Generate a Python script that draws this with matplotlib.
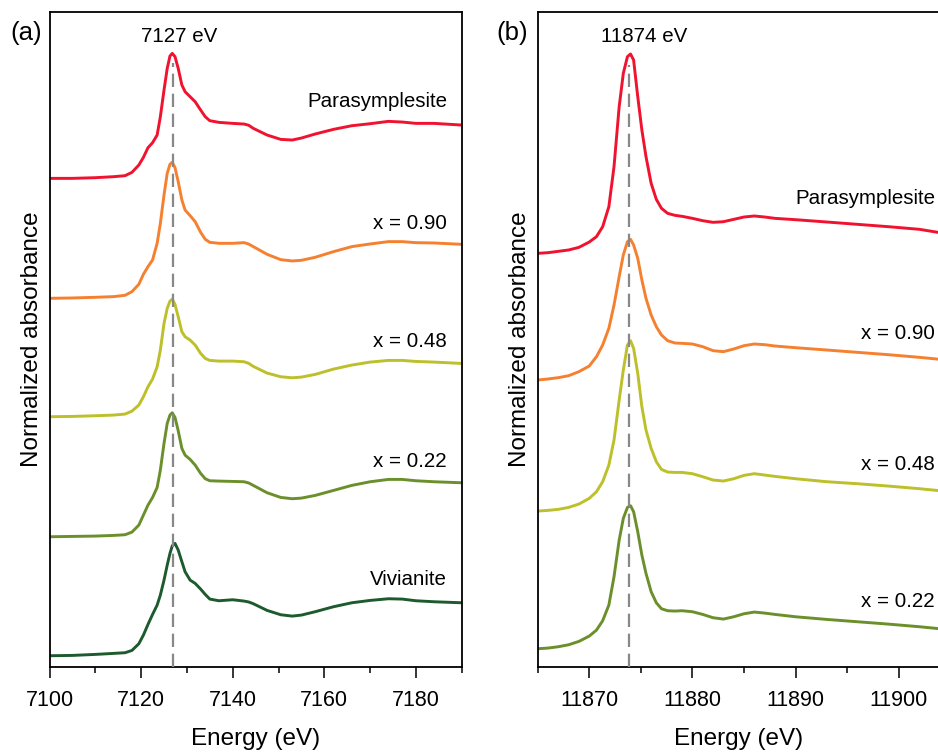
import matplotlib
matplotlib.use("Agg")
import matplotlib.pyplot as plt
from matplotlib.ticker import MultipleLocator

plt.rcParams["font.family"] = ["Liberation Sans", "DejaVu Sans"]

# Fe K-edge (panel a), energies in eV
FE_ENERGY = [7100, 7105, 7110, 7114, 7116.5, 7118, 7119.5, 7120.5, 7121.5, 7122.5,
             7123.5, 7124.2, 7125, 7125.7, 7126.3, 7126.8, 7127.4, 7128.1, 7128.9,
             7129.6, 7130.7, 7131.8, 7133, 7134, 7135, 7137, 7140, 7142.5, 7143.5,
             7144.5, 7147.5, 7150.5, 7153, 7155, 7158, 7162, 7166, 7170, 7174, 7177,
             7180, 7184, 7190]
FE_PARASYMPLESITE = [0, 0, 0.012, 0.030, 0.048, 0.107, 0.238, 0.375, 0.548, 0.637,
                     0.774, 1.101, 1.577, 1.964, 2.185, 2.232, 2.173, 1.964, 1.667,
                     1.548, 1.458, 1.369, 1.220, 1.101, 1.030, 1.000, 0.982, 0.970,
                     0.948, 0.893, 0.774, 0.696, 0.685, 0.720, 0.792, 0.875, 0.940,
                     0.976, 1.018, 1.006, 0.982, 0.982, 0.952]
FE_X090 = [0, 0.006, 0.018, 0.030, 0.054, 0.119, 0.250, 0.429, 0.565, 0.685,
           0.982, 1.339, 1.845, 2.232, 2.393, 2.429, 2.333, 2.083, 1.756,
           1.577, 1.476, 1.369, 1.179, 1.054, 1.000, 0.982, 0.982, 0.994,
           0.968, 0.923, 0.786, 0.690, 0.667, 0.679, 0.732, 0.833, 0.923,
           0.970, 1.012, 1.012, 0.994, 0.988, 0.964]
FE_X048 = [0, 0.006, 0.018, 0.030, 0.048, 0.101, 0.208, 0.357, 0.536, 0.673,
           0.893, 1.190, 1.667, 1.935, 2.065, 2.101, 2.006, 1.786, 1.518,
           1.429, 1.369, 1.280, 1.131, 1.042, 1.006, 0.994, 0.994, 0.982,
           0.953, 0.899, 0.780, 0.714, 0.696, 0.708, 0.756, 0.851, 0.923,
           0.976, 1.006, 1.006, 0.988, 0.976, 0.952]
FE_X022 = [0, 0.006, 0.012, 0.024, 0.036, 0.083, 0.208, 0.387, 0.565, 0.702,
           0.881, 1.190, 1.667, 2.024, 2.173, 2.214, 2.131, 1.893, 1.577,
           1.458, 1.381, 1.280, 1.131, 1.036, 1.000, 0.994, 0.988, 0.982,
           0.960, 0.917, 0.786, 0.702, 0.679, 0.690, 0.738, 0.827, 0.917,
           0.982, 1.024, 1.024, 1.000, 0.982, 0.964]
FE_VIVIANITE = [0, 0.006, 0.024, 0.042, 0.054, 0.095, 0.214, 0.369, 0.560, 0.738,
                0.905, 1.083, 1.351, 1.619, 1.827, 1.964, 2.006, 1.887, 1.679,
                1.500, 1.351, 1.292, 1.190, 1.095, 1.012, 0.982, 1.000, 0.976,
                0.960, 0.929, 0.810, 0.732, 0.708, 0.726, 0.786, 0.875, 0.946,
                0.988, 1.018, 1.012, 0.982, 0.964, 0.946]
FE_SERIES = [FE_PARASYMPLESITE, FE_X090, FE_X048, FE_X022, FE_VIVIANITE]
FE_OFFSETS = [8.721, 6.579, 4.464, 2.321, 0.196]
FE_LABELS = ["Parasymplesite", "x = 0.90", "x = 0.48", "x = 0.22", "Vivianite"]
FE_LABEL_Y = [10.089, 7.918, 5.804, 3.673, 1.561]
FE_PEAK = 7127

# As K-edge (panel b)
AS_ENERGY = [11865, 11866, 11867, 11868, 11869, 11870, 11870.7, 11871.3, 11871.9,
             11872.4, 11872.9, 11873.3, 11873.7, 11874, 11874.3, 11874.7, 11875.1,
             11875.5, 11876, 11876.5, 11877, 11877.6, 11878.3, 11879, 11880, 11881,
             11882, 11883, 11884, 11885, 11886, 11887, 11888, 11890, 11893, 11896,
             11899, 11902, 11904]
AS_PARASYMPLESITE = [0, 0.012, 0.036, 0.060, 0.107, 0.202, 0.298, 0.476, 0.833,
                     1.548, 2.619, 3.214, 3.512, 3.560, 3.452, 2.798, 2.202,
                     1.726, 1.250, 0.964, 0.804, 0.714, 0.679, 0.661, 0.625, 0.583,
                     0.554, 0.565, 0.607, 0.649, 0.667, 0.649, 0.625, 0.601, 0.560,
                     0.518, 0.476, 0.429, 0.369]
AS_X090 = [0, 0.018, 0.042, 0.077, 0.149, 0.250, 0.417, 0.625, 0.923,
           1.339, 1.845, 2.232, 2.470, 2.512, 2.411, 2.173, 1.786,
           1.458, 1.161, 0.952, 0.804, 0.702, 0.661, 0.655, 0.643, 0.595,
           0.524, 0.506, 0.554, 0.613, 0.643, 0.631, 0.607, 0.577, 0.536,
           0.494, 0.452, 0.405, 0.369]
AS_X048 = [0, 0.012, 0.030, 0.065, 0.125, 0.226, 0.345, 0.524, 0.821,
           1.268, 1.982, 2.518, 2.964, 3.042, 2.905, 2.458, 1.863,
           1.446, 1.119, 0.881, 0.744, 0.696, 0.690, 0.690, 0.667, 0.613,
           0.554, 0.536, 0.577, 0.637, 0.667, 0.643, 0.619, 0.577, 0.524,
           0.488, 0.446, 0.399, 0.363]
AS_X022 = [0, 0.012, 0.036, 0.071, 0.131, 0.226, 0.333, 0.500, 0.780,
           1.286, 1.940, 2.327, 2.524, 2.554, 2.446, 2.089, 1.673,
           1.345, 1.018, 0.821, 0.714, 0.679, 0.673, 0.679, 0.661, 0.613,
           0.554, 0.530, 0.571, 0.625, 0.655, 0.637, 0.613, 0.571, 0.524,
           0.482, 0.440, 0.393, 0.357]
AS_SERIES = [AS_PARASYMPLESITE, AS_X090, AS_X048, AS_X022]
AS_OFFSETS = [7.382, 5.120, 2.780, 0.321]
AS_LABELS = ["Parasymplesite", "x = 0.90", "x = 0.48", "x = 0.22"]
AS_LABEL_Y = [8.364, 5.954, 3.614, 1.161]
AS_PEAK = 11873.9

COLORS = ["#f0122e", "#f5802f", "#bdbf2b", "#6b8f2b", "#1d5a2d"]
YMAX = 11.686


def style_axis(ax, xlim, major, minor):
    ax.set_xlim(*xlim)
    ax.set_ylim(0, YMAX)
    ax.set_yticks([])
    ax.xaxis.set_major_locator(MultipleLocator(major))
    ax.xaxis.set_minor_locator(MultipleLocator(minor))
    ax.tick_params(axis="x", which="major", direction="out", length=8, width=1.1,
                   labelsize=15.5, pad=9)
    ax.tick_params(axis="x", which="minor", direction="out", length=4.5, width=1.1)
    for spine in ax.spines.values():
        spine.set_linewidth(1.3)
    ax.set_xlabel("Energy (eV)", fontsize=17.5, labelpad=12)
    ax.set_ylabel("Normalized absorbance", fontsize=17.5, labelpad=5)


fig = plt.figure(figsize=(9.38, 7.52), dpi=100)
ax_a = fig.add_axes([0.0528, 0.1134, 0.4394, 0.8702])
ax_b = fig.add_axes([0.5732, 0.1134, 0.4290, 0.8702])

for values, offset, color, label, ly in zip(FE_SERIES, FE_OFFSETS, COLORS,
                                            FE_LABELS, FE_LABEL_Y):
    ax_a.plot(FE_ENERGY, [v + offset for v in values], color=color, lw=2.1,
              solid_joinstyle="round")
    ax_a.text(7186.8, ly, label, ha="right", va="center", fontsize=14.8)
ax_a.plot([FE_PEAK, FE_PEAK], [0, 10.78], color="#888888", lw=1.6,
          dashes=(6, 3), zorder=5)
ax_a.text(7128.2, 11.25, f"{FE_PEAK} eV", ha="center", va="center", fontsize=14.8)
style_axis(ax_a, (7100, 7190), 20, 10)

for values, offset, color, label, ly in zip(AS_SERIES, AS_OFFSETS, COLORS,
                                            AS_LABELS, AS_LABEL_Y):
    ax_b.plot(AS_ENERGY, [v + offset for v in values], color=color, lw=2.1,
              solid_joinstyle="round")
    ax_b.text(11903.5, ly, label, ha="right", va="center", fontsize=14.8)
ax_b.plot([AS_PEAK, AS_PEAK], [0, 10.745], color="#888888", lw=1.6,
          dashes=(6, 3), zorder=5)
ax_b.text(11875.3, 11.25, "11874 eV", ha="center", va="center", fontsize=14.8)
style_axis(ax_b, (11865, 11904), 10, 5)

fig.text(26 / 938, 1 - 33 / 752, "(a)", ha="center", va="center", fontsize=18.5)
fig.text(512 / 938, 1 - 33 / 752, "(b)", ha="center", va="center", fontsize=18.5)

fig.savefig("out.png", dpi=100)
